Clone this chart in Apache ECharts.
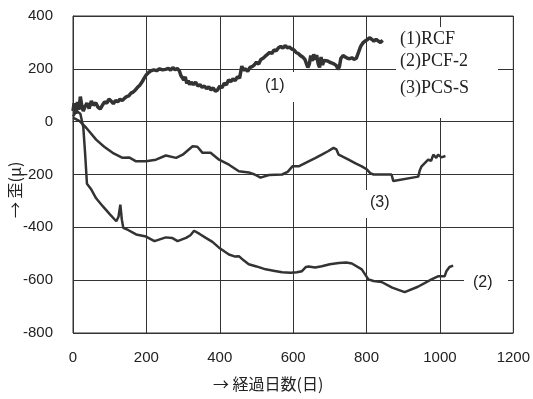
<!DOCTYPE html>
<html>
<head>
<meta charset="utf-8">
<script src="https://cdn.jsdelivr.net/npm/echarts@6/dist/echarts.min.js"></script>
<style>
  html, body { margin: 0; padding: 0; background: #fff; }
  #chart { width: 533px; height: 399px; }
</style>
</head>
<body>
<div id="chart"></div>
<script>
// x ticks (days) and y ticks (strain)
const xTicks = [0, 200, 400, 600, 800, 1000, 1200]
const yTicks = [-800, -600, -400, -200, 0, 200, 400]

// (1)RCF  [day, strain]
const rcf = [
  [0, 40], [3, 70], [5, 58], [8, 30], [12, 75], [16, 45], [20, 95], [24, 60], [28, 40], [32, 55],
  [38, 70], [44, 50], [50, 78], [56, 62], [62, 72], [68, 55], [74, 48], [80, 62], [86, 75], [92, 70],
  [98, 85], [104, 78], [110, 68], [116, 80], [122, 75], [128, 85], [134, 80], [140, 88], [146, 95], [152, 98],
  [158, 108], [164, 112], [170, 120], [176, 130], [182, 138], [188, 150], [194, 165], [200, 178], [206, 186], [212, 192],
  [220, 196], [228, 193], [236, 200], [244, 196], [252, 198], [260, 202], [266, 195], [272, 205], [278, 196], [284, 202],
  [290, 192], [294, 175], [298, 168], [302, 158], [306, 170], [310, 145], [314, 155], [318, 140], [322, 150], [328, 140],
  [334, 150], [340, 135], [346, 140], [352, 130], [358, 135], [364, 125], [370, 132], [376, 120], [382, 128], [388, 115],
  [394, 120], [400, 135], [406, 128], [412, 145], [418, 140], [424, 158], [430, 152], [436, 162], [442, 155], [448, 170],
  [454, 165], [460, 210], [464, 195], [470, 200], [476, 190], [482, 205], [488, 208], [494, 215], [500, 225], [506, 218],
  [512, 235], [518, 240], [524, 248], [530, 255], [536, 262], [542, 258], [548, 272], [554, 268], [560, 280], [566, 285],
  [572, 278], [578, 288], [584, 280], [590, 282], [596, 275], [602, 272], [608, 262], [614, 258], [620, 250], [626, 245],
  [632, 236], [636, 220], [640, 205], [644, 218], [648, 250], [652, 230], [656, 255], [660, 235], [664, 252], [668, 220],
  [672, 205], [676, 245], [680, 215], [684, 232], [688, 225], [694, 230], [700, 225], [706, 222], [712, 218], [718, 212],
  [722, 198], [726, 208], [730, 240], [736, 250], [742, 245], [748, 240], [754, 238], [760, 242], [766, 236], [772, 240],
  [778, 262], [784, 285], [790, 298], [796, 305], [802, 310], [808, 318], [814, 312], [820, 305], [826, 312], [832, 305],
  [838, 300], [844, 308]
]

// (2)PCF-2
const pcf2 = [
  [0, 20], [10, 40], [20, 30], [28, -20], [33, -120], [38, -235], [50, -257], [63, -290], [81, -320], [100, -350],
  [118, -377], [124, -360], [129, -314], [133, -370], [137, -402], [150, -410], [172, -427], [199, -435], [222, -452], [253, -438],
  [270, -440], [285, -452], [308, -440], [320, -430], [330, -413], [345, -425], [362, -440], [380, -455], [398, -477], [425, -503],
  [440, -510], [452, -509], [465, -525], [479, -540], [500, -548], [525, -559], [550, -565], [570, -570], [593, -572], [610, -570],
  [624, -566], [635, -550], [642, -548], [660, -552], [678, -547], [700, -540], [724, -535], [745, -533], [760, -537], [787, -559],
  [805, -597], [819, -603], [841, -607], [870, -628], [904, -645], [940, -625], [977, -597], [996, -585], [1013, -585], [1018, -565],
  [1026, -550], [1036, -545]
]

// (3)PCS-S
const pcss = [
  [0, 15], [5, 20], [18, 2], [36, -23], [63, -68], [85, -95], [108, -118], [135, -137], [154, -136], [172, -150],
  [199, -150], [226, -144], [253, -128], [281, -137], [299, -125], [326, -93], [339, -95], [353, -118], [375, -118], [398, -144],
  [425, -163], [452, -188], [479, -192], [495, -200], [511, -212], [534, -202], [570, -200], [585, -190], [598, -169], [615, -169],
  [642, -150], [660, -138], [678, -125], [695, -112], [710, -99], [718, -105], [724, -125], [751, -144], [770, -158], [787, -169],
  [800, -180], [810, -195], [819, -200], [868, -200], [873, -225], [941, -208], [945, -185], [950, -169], [968, -144], [976, -148],
  [982, -125], [990, -137], [995, -125], [1004, -135], [1015, -130]
]

const legendLines = ['(1)RCF', '(2)PCF-2', '(3)PCS-S']

let myChart = echarts.init(document.getElementById('chart'))

const ink = '#333'
const lineStyle = { color: '#333', width: 1 }
const tickFont = { color: '#222', fontSize: 15, fontFamily: 'Liberation Sans' }

let option = {
  animation: false,
  backgroundColor: '#fff',
  grid: {
    left: 73, right: 18, top: 16, bottom: 66,
    show: true, borderColor: ink, borderWidth: 1
  },
  xAxis: {
    type: 'value',
    min: xTicks[0], max: xTicks[xTicks.length - 1], interval: 200,
    axisLine: { show: true, lineStyle: lineStyle },
    axisTick: { show: false },
    splitLine: { show: true, lineStyle: lineStyle },
    axisLabel: Object.assign({ margin: 17, formatter: v => String(v) }, tickFont)
  },
  yAxis: {
    type: 'value',
    min: yTicks[0], max: yTicks[yTicks.length - 1], interval: 200,
    axisLine: { show: true, lineStyle: lineStyle },
    axisTick: { show: false },
    splitLine: { show: true, lineStyle: lineStyle },
    axisLabel: Object.assign({ margin: 20, formatter: v => String(v) }, tickFont)
  },
  graphic: [
    // white patches behind labels (they cut the grid lines)
    { type: 'rect', z: 1, shape: { x: 396, y: 27, width: 102, height: 91 }, style: { fill: '#fff' } },
    { type: 'rect', z: 1, shape: { x: 262, y: 72, width: 34, height: 30 }, style: { fill: '#fff' } },
    { type: 'rect', z: 1, shape: { x: 362, y: 190, width: 38, height: 28 }, style: { fill: '#fff' } },
    { type: 'rect', z: 1, shape: { x: 464, y: 270, width: 44, height: 26 }, style: { fill: '#fff' } },
    { type: 'text', z: 5, left: 400, top: 30, style: { text: legendLines[0], fill: '#222', font: '18px "Liberation Serif"' } },
    { type: 'text', z: 5, left: 400, top: 52, style: { text: legendLines[1], fill: '#222', font: '18px "Liberation Serif"' } },
    { type: 'text', z: 5, left: 400, top: 79, style: { text: legendLines[2], fill: '#222', font: '18px "Liberation Serif"' } },
    { type: 'text', z: 5, left: 265, top: 78, style: { text: '(1)', fill: '#222', font: '16px "Liberation Sans"' } },
    { type: 'text', z: 5, left: 370, top: 195, style: { text: '(3)', fill: '#222', font: '16px "Liberation Sans"' } },
    { type: 'text', z: 5, left: 473, top: 275, style: { text: '(2)', fill: '#222', font: '16px "Liberation Sans"' } },
    { type: 'text', z: 5, left: 213, top: 376, style: { text: '→ 経過日数(日)', fill: '#222', font: '16px "Noto Sans CJK JP"' } },
    {
      type: 'text', z: 5, x: 7, y: 218, rotation: Math.PI / 2,
      style: { text: '→ 歪(μ)', fill: '#222', font: '16px "Noto Sans CJK JP"' }
    }
  ],
  series: [
    { name: legendLines[0], type: 'line', data: rcf, showSymbol: false, lineStyle: { color: ink, width: 3.5 }, z: 3 },
    { name: legendLines[1], type: 'line', data: pcf2, showSymbol: false, lineStyle: { color: ink, width: 2.5 }, z: 3 },
    { name: legendLines[2], type: 'line', data: pcss, showSymbol: false, lineStyle: { color: ink, width: 2.5 }, z: 3 }
  ]
}
myChart.setOption(option)
</script>
</body>
</html>
